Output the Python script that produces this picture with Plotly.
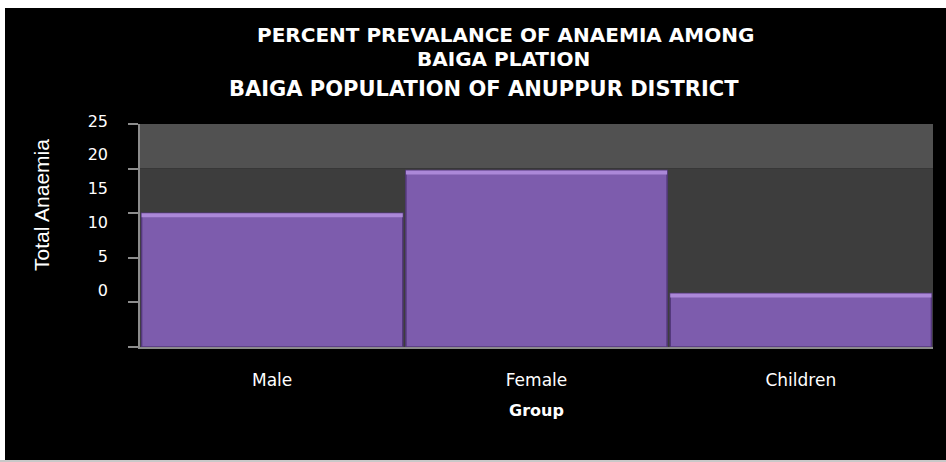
import plotly.graph_objects as go

categories = ["Male", "Female", "Children"]
values = [15, 19.8, 6]
tick_values = [0, 5, 10, 15, 20, 25]
tick_labels = ["0", "5", "10", "15", "20", "25"]

bar_color = "#7d5cad"
bevel_color = "#ab88d8"
bevel = 0.45

fig = go.Figure()
fig.add_trace(go.Bar(
    x=categories, y=values, marker=dict(color=bar_color, line=dict(color="#54397c", width=1.5)),
    hoverinfo="x+y", name="Total Anaemia", showlegend=False,
))
fig.add_trace(go.Bar(
    x=categories, y=[bevel] * len(values), base=[v - bevel for v in values],
    marker=dict(color=bevel_color, line=dict(width=0)), hoverinfo="skip", showlegend=False,
))
# invisible trace to carry the label axis
fig.add_trace(go.Scatter(x=categories, y=[None] * len(categories), yaxis="y2",
                         mode="markers", hoverinfo="skip", showlegend=False))

W, H = 946, 462
L, R, T, B = 140, 13, 110, 115
ph = H - T - B
pw = W - L - R

def px_x(p):
    return (p - L) / pw

def px_y(p):
    return (H - B - p) / ph

shapes = [
    dict(type="rect", xref="x domain", yref="y", x0=0, x1=1, y0=0, y1=20,
         fillcolor="#3d3d3d", line=dict(width=0), layer="below"),
    dict(type="rect", xref="x domain", yref="y", x0=0, x1=1, y0=20, y1=25,
         fillcolor="#515151", line=dict(width=0), layer="below"),
    dict(type="rect", xref="paper", yref="paper", x0=px_x(-2), x1=px_x(W + 2), y0=px_y(8), y1=px_y(-2),
         fillcolor="#ffffff", line=dict(width=0), layer="above"),
    dict(type="rect", xref="paper", yref="paper", x0=px_x(-2), x1=px_x(5), y0=px_y(H + 2), y1=px_y(-2),
         fillcolor="#ffffff", line=dict(width=0), layer="above"),
    dict(type="rect", xref="paper", yref="paper", x0=px_x(-2), x1=px_x(W + 2), y0=px_y(H + 2), y1=px_y(460),
         fillcolor="#c8c8c8", line=dict(width=0), layer="above"),
]

title_font = dict(family="DejaVu Sans", size=20, color="white", weight="bold")
annotations = [
    dict(text="PERCENT PREVALANCE OF ANAEMIA AMONG", x=px_x(505), y=px_y(35), xref="paper", yref="paper",
         showarrow=False, font=title_font, xanchor="center", yanchor="middle"),
    dict(text="BAIGA PLATION", x=px_x(503), y=px_y(59), xref="paper", yref="paper",
         showarrow=False, font=title_font, xanchor="center", yanchor="middle"),
    dict(text="BAIGA POPULATION OF ANUPPUR DISTRICT", x=px_x(484), y=px_y(89), xref="paper", yref="paper",
         showarrow=False, font=dict(family="DejaVu Sans", size=21, color="white", weight="bold"),
         xanchor="center", yanchor="middle"),
    dict(text="Total Anaemia", x=px_x(41), y=px_y(205), xref="paper", yref="paper", textangle=-90,
         showarrow=False, font=dict(family="Liberation Sans Narrow, Liberation Sans", size=21, color="white"),
         xanchor="center", yanchor="middle"),
]

fig.update_layout(
    width=W, height=H,
    margin=dict(l=L, r=R, t=T, b=B, pad=0),
    paper_bgcolor="black", plot_bgcolor="rgba(0,0,0,0)",
    barmode="overlay", bargap=0.012,
    shapes=shapes, annotations=annotations,
    xaxis=dict(
        type="category", showline=True, linecolor="#8c8c8c", linewidth=2, showgrid=False, zeroline=False,
        ticks="", tickfont=dict(family="DejaVu Sans", size=17, color="white"), ticklabelstandoff=17,
        title=dict(text="Group", font=dict(family="DejaVu Sans", size=16, color="white", weight="bold"), standoff=15),
        fixedrange=True,
    ),
    yaxis=dict(
        domain=[0, 223 / ph], range=[0, 25], tickvals=tick_values, showticklabels=False,
        ticks="outside", ticklen=10, tickcolor="#8c8c8c", tickwidth=1.5,
        showline=True, linecolor="#8c8c8c", linewidth=1.5, showgrid=False, zeroline=False, fixedrange=True,
    ),
    yaxis2=dict(
        domain=[0, 1], anchor="free", position=0, range=[-8.43, 26.63],
        tickvals=tick_values, ticktext=tick_labels, ticks="", showline=False, showgrid=False, zeroline=False,
        tickfont=dict(family="DejaVu Sans", size=16, color="white"), ticklabelstandoff=32, fixedrange=True,
    ),
)

fig.write_html("out.html")
